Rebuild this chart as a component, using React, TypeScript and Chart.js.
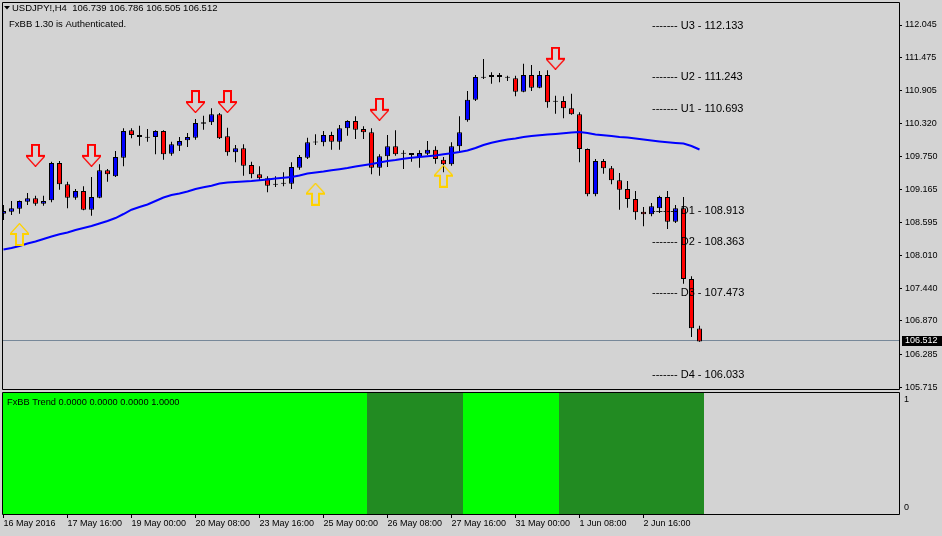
import React, { useEffect, useRef } from 'react';
import { Chart, registerables } from 'chart.js';

Chart.register(...registerables);

// ---------------- data ----------------
const symbolHeader = 'USDJPY!,H4  106.739 106.786 106.505 106.512';
const authText = 'FxBB 1.30 is Authenticated.';
const trendLabel = 'FxBB Trend 0.0000 0.0000 0.0000 1.0000';

const opens = [
  108.745, 108.780, 108.833, 108.955, 109.015, 108.920, 108.980, 109.632, 109.259, 109.025,
  109.142, 108.815, 109.025, 109.504, 109.399, 109.724, 110.204, 110.121, 110.078, 110.086,
  110.191, 109.794, 109.934, 110.029, 110.074, 110.319, 110.344, 110.483, 110.099, 109.819,
  109.889, 109.597, 109.434, 109.364, 109.255, 109.272, 109.270, 109.550, 109.724, 109.992,
  109.994, 110.121, 110.004, 110.239, 110.366, 110.226, 110.169, 109.550, 109.749, 109.924,
  109.792, 109.807, 109.737, 109.794, 109.864, 109.690, 109.609, 109.924, 110.378, 110.739,
  111.121, 111.136, 111.171, 111.125, 111.113, 110.879, 111.171, 110.948, 111.171, 110.702,
  110.716, 110.588, 110.483, 109.877, 109.085, 109.667, 109.539, 109.329, 109.177, 109.002,
  108.780, 108.735, 108.840, 109.037, 108.605, 108.840, 107.603, 106.739,
];
const highs = [
  108.897, 108.967, 108.975, 109.107, 109.060, 109.060, 109.655, 109.667, 109.305, 109.177,
  109.224, 109.387, 109.609, 109.527, 109.842, 110.239, 110.239, 110.284, 110.226, 110.204,
  110.204, 110.004, 110.086, 110.156, 110.401, 110.459, 110.588, 110.506, 110.249, 109.947,
  109.959, 109.655, 109.574, 109.399, 109.399, 109.469, 109.644, 109.772, 110.074, 110.134,
  110.191, 110.179, 110.296, 110.378, 110.448, 110.274, 110.239, 109.784, 110.121, 110.204,
  109.854, 109.807, 109.854, 110.017, 109.924, 109.737, 109.994, 110.448, 110.891, 111.171,
  111.450, 111.218, 111.206, 111.158, 111.158, 111.368, 111.345, 111.240, 111.253, 110.809,
  110.798, 110.844, 110.518, 109.885, 109.702, 109.702, 109.579, 109.457, 109.317, 109.142,
  108.862, 108.932, 109.060, 109.142, 108.897, 109.037, 107.651, 106.786,
];
const lows = [
  108.635, 108.723, 108.745, 108.897, 108.885, 108.885, 108.945, 109.165, 108.840, 108.990,
  108.805, 108.710, 109.015, 109.305, 109.387, 109.574, 110.064, 109.934, 110.004, 109.784,
  109.690, 109.759, 109.842, 109.912, 110.039, 110.214, 110.296, 110.051, 109.759, 109.644,
  109.410, 109.364, 109.317, 109.119, 109.212, 109.224, 109.177, 109.515, 109.702, 109.947,
  109.924, 109.864, 109.864, 110.109, 110.051, 110.051, 109.434, 109.410, 109.562, 109.759,
  109.527, 109.655, 109.550, 109.772, 109.620, 109.469, 109.585, 109.829, 110.354, 110.716,
  111.101, 111.018, 111.043, 111.066, 110.798, 110.870, 110.891, 110.940, 110.599, 110.494,
  110.413, 110.475, 109.644, 109.050, 109.050, 109.445, 109.259, 108.815, 108.850, 108.640,
  108.525, 108.700, 108.757, 108.478, 108.583, 107.521, 106.589, 106.505,
];
const closes = [
  108.793, 108.840, 108.967, 109.015, 108.920, 108.967, 109.632, 109.259, 109.025, 109.142,
  108.815, 109.037, 109.504, 109.434, 109.737, 110.191, 110.121, 110.086, 110.072, 110.191,
  109.784, 109.959, 110.017, 110.086, 110.331, 110.344, 110.483, 110.064, 109.819, 109.889,
  109.585, 109.434, 109.364, 109.235, 109.250, 109.268, 109.562, 109.737, 109.994, 109.996,
  110.121, 110.004, 110.239, 110.366, 110.214, 110.169, 109.550, 109.749, 109.924, 109.784,
  109.796, 109.772, 109.807, 109.864, 109.702, 109.609, 109.924, 110.169, 110.739, 111.136,
  111.125, 111.171, 111.136, 111.121, 110.879, 111.171, 110.948, 111.171, 110.693, 110.706,
  110.588, 110.483, 109.877, 109.085, 109.667, 109.539, 109.329, 109.165, 109.002, 108.770,
  108.735, 108.875, 109.037, 108.605, 108.840, 107.603, 106.741, 106.512,
];
const maValues = [
  108.119, 108.146, 108.180, 108.224, 108.259, 108.303, 108.347, 108.385, 108.417, 108.460,
  108.495, 108.530, 108.574, 108.618, 108.670, 108.740, 108.815, 108.862, 108.906, 108.967,
  109.029, 109.072, 109.098, 109.133, 109.177, 109.207, 109.235, 109.273, 109.291, 109.300,
  109.308, 109.317, 109.331, 109.343, 109.361, 109.375, 109.387, 109.413, 109.448, 109.466,
  109.483, 109.504, 109.523, 109.544, 109.571, 109.592, 109.614, 109.641, 109.667, 109.684,
  109.707, 109.723, 109.737, 109.749, 109.763, 109.784, 109.803, 109.824, 109.850, 109.894,
  109.947, 109.987, 110.017, 110.043, 110.060, 110.086, 110.104, 110.116, 110.130, 110.139,
  110.151, 110.165, 110.174, 110.156, 110.130, 110.116, 110.104, 110.086, 110.078, 110.060,
  110.043, 110.025, 110.008, 109.994, 109.982, 109.973, 109.929, 109.868,
];
// FxBB Trend histogram: value per bar and state (1 = bright, 2 = dark)
const trendValues = [
  1, 1, 1, 1, 1, 1, 1, 1, 1, 1, 1, 1, 1, 1, 1, 1, 1, 1, 1, 1, 1, 1,
  1, 1, 1, 1, 1, 1, 1, 1, 1, 1, 1, 1, 1, 1, 1, 1, 1, 1, 1, 1, 1, 1,
  1, 1, 1, 1, 1, 1, 1, 1, 1, 1, 1, 1, 1, 1, 1, 1, 1, 1, 1, 1, 1, 1,
  1, 1, 1, 1, 1, 1, 1, 1, 1, 1, 1, 1, 1, 1, 1, 1, 1, 1, 1, 1, 1, 1,
];
const trendStates = [
  1, 1, 1, 1, 1, 1, 1, 1, 1, 1, 1, 1, 1, 1, 1, 1, 1, 1, 1, 1, 1, 1,
  1, 1, 1, 1, 1, 1, 1, 1, 1, 1, 1, 1, 1, 1, 1, 1, 1, 1, 1, 1, 1, 1,
  1, 1, 2, 2, 2, 2, 2, 2, 2, 2, 2, 2, 2, 2, 1, 1, 1, 1, 1, 1, 1, 1,
  1, 1, 1, 1, 2, 2, 2, 2, 2, 2, 2, 2, 2, 2, 2, 2, 2, 2, 2, 2, 2, 2,
];

const priceTicks = [112.045, 111.475, 110.905, 110.32, 109.75, 109.165, 108.595, 108.01, 107.44, 106.87, 106.285, 105.715];
const lastPrice = 106.512;
const timeTickBars = [0, 8, 16, 24, 32, 40, 48, 56, 64, 72, 80];
const timeTickLabels = [
  '16 May 2016', '17 May 16:00', '19 May 00:00', '20 May 08:00', '23 May 16:00', '25 May 00:00',
  '26 May 08:00', '27 May 16:00', '31 May 00:00', '1 Jun 08:00', '2 Jun 16:00',
];

const levelNames = ['U3', 'U2', 'U1', 'D1', 'D2', 'D3', 'D4'];
const levelPrices = [112.133, 111.243, 110.693, 108.913, 108.363, 107.473, 106.033];
const levelBar = 81;

const sellArrowBars = [4, 11, 24, 28, 47, 69];
const sellArrowPrices = [109.766, 109.766, 110.707, 110.707, 110.571, 111.463];
const buyArrowBars = [2, 39, 55];
const buyArrowPrices = [108.382, 109.086, 109.401];

// ---------------- styles ----------------
const BG = '#D3D3D3';
const BULL = '#0000FF';
const BEAR = '#FF0000';
const MA_COLOR = '#0000FF';
const TREND_BRIGHT = '#00FF00';
const TREND_DARK = '#228B22';
const SELL_COLOR = '#FF0000';
const BUY_COLOR = '#FFD200';
const SANS = "'Liberation Sans', Arial, sans-serif";

function makeArrow(color: string, down: boolean): HTMLCanvasElement {
  const c = document.createElement('canvas');
  c.width = 19;
  c.height = 23;
  const g = c.getContext('2d')!;
  if (!down) {
    g.translate(0, 23);
    g.scale(1, -1);
  }
  g.fillStyle = color;
  g.strokeStyle = color;
  g.fillRect(5, 0, 9, 2);
  g.fillRect(5, 0, 2, 13);
  g.fillRect(12, 0, 2, 13);
  g.fillRect(0, 11, 7, 2);
  g.fillRect(12, 11, 7, 2);
  g.lineWidth = 1.2;
  g.beginPath();
  g.moveTo(0.5, 12.5);
  g.lineTo(9.5, 22.5);
  g.lineTo(18.5, 12.5);
  g.stroke();
  return c;
}

const decorPlugin = {
  id: 'decor',
  beforeDraw(chart: any) {
    const { ctx } = chart;
    ctx.save();
    ctx.fillStyle = BG;
    ctx.fillRect(0, 0, chart.width, chart.height);
    ctx.restore();
  },
  beforeDatasetsDraw(chart: any) {
    const { ctx, chartArea } = chart;
    const y = Math.round(chart.scales.y.getPixelForValue(lastPrice)) - 0.5;
    ctx.save();
    ctx.strokeStyle = '#778899';
    ctx.lineWidth = 1;
    ctx.beginPath();
    ctx.moveTo(chartArea.left, y);
    ctx.lineTo(chartArea.right, y);
    ctx.stroke();
    ctx.restore();
  },
  afterDatasetsDraw(chart: any) {
    const { ctx } = chart;
    const xs = chart.scales.x;
    const ys = chart.scales.y;
    ctx.save();
    ctx.fillStyle = '#000';
    ctx.font = `11px ${SANS}`;
    ctx.textBaseline = 'top';
    ctx.textAlign = 'left';
    const x = Math.round(xs.getPixelForValue(levelBar));
    levelNames.forEach((n, i) => {
      const y = ys.getPixelForValue(levelPrices[i]) + 1;
      ctx.fillText(`------- ${n} - ${levelPrices[i].toFixed(3)}`, x, y);
    });
    ctx.restore();
  },
  afterDraw(chart: any) {
    const { ctx, chartArea } = chart;
    const ys = chart.scales.y;
    const ys2 = chart.scales.y2;
    ctx.save();
    // panel borders
    ctx.strokeStyle = '#000';
    ctx.lineWidth = 1;
    const L = chartArea.left - 0.5;
    const R = chartArea.right + 0.5;
    const mainBottom = 389.5;
    const subTop = Math.round(ys2.getPixelForValue(1)) - 0.5;
    ctx.beginPath();
    ctx.rect(L, chartArea.top - 0.5, R - L, mainBottom - (chartArea.top - 0.5));
    ctx.stroke();
    ctx.beginPath();
    ctx.rect(L, subTop, R - L, chartArea.bottom + 0.5 - subTop);
    ctx.stroke();

    // header
    ctx.fillStyle = '#000';
    ctx.beginPath();
    ctx.moveTo(4, 6);
    ctx.lineTo(10, 6);
    ctx.lineTo(7, 9.5);
    ctx.closePath();
    ctx.fill();
    ctx.textAlign = 'left';
    ctx.textBaseline = 'alphabetic';
    ctx.font = `9.5px ${SANS}`;
    ctx.fillText(symbolHeader, 12, 11);
    ctx.fillText(authText, 9, 27);
    ctx.font = `9.25px ${SANS}`;
    ctx.fillText(trendLabel, 7, 405);

    // sub axis labels
    ctx.font = `9px ${SANS}`;
    ctx.textBaseline = 'middle';
    ctx.fillText('1', chartArea.right + 5, ys2.getPixelForValue(1) + 7);
    ctx.fillText('0', chartArea.right + 5, ys2.getPixelForValue(0) - 6);

    // last price box
    const py = Math.round(ys.getPixelForValue(lastPrice));
    ctx.fillStyle = '#000';
    ctx.fillRect(chartArea.right + 3, py - 5, 40, 10);
    ctx.fillStyle = '#FFF';
    ctx.fillText(lastPrice.toFixed(3), chartArea.right + 6, py);
    ctx.restore();
  },
};

export default function App() {
  const ref = useRef<HTMLCanvasElement | null>(null);

  useEffect(() => {
    if (!ref.current) return;
    const n = opens.length;
    const idx = Array.from({ length: n }, (_, i) => i);
    const bodyData = idx.map((i) => ({ x: i, y: [opens[i], closes[i]] }));
    const bodyColors = idx.map((i) => (closes[i] > opens[i] ? BULL : closes[i] < opens[i] ? BEAR : '#000'));
    const wickData = idx.map((i) => ({ x: i, y: [lows[i], highs[i]] }));
    const maData = idx.map((i) => ({ x: i, y: maValues[i] }));
    const trendData = idx.map((i) => ({ x: i, y: trendValues[i] }));
    const trendColors = idx.map((i) => (trendStates[i] === 1 ? TREND_BRIGHT : TREND_DARK));
    const sellData = sellArrowBars.map((b, i) => ({ x: b, y: sellArrowPrices[i] }));
    const buyData = buyArrowBars.map((b, i) => ({ x: b, y: buyArrowPrices[i] }));

    const chart = new Chart(ref.current, {
      type: 'bar',
      data: {
        datasets: [
          {
            type: 'scatter',
            data: sellData,
            pointStyle: makeArrow(SELL_COLOR, true),
            pointRadius: 5,
            xAxisID: 'x',
            yAxisID: 'y',
            order: 0,
          } as any,
          {
            type: 'scatter',
            data: buyData,
            pointStyle: makeArrow(BUY_COLOR, false),
            pointRadius: 5,
            xAxisID: 'x',
            yAxisID: 'y',
            order: 0,
          } as any,
          {
            type: 'line',
            data: maData,
            borderColor: MA_COLOR,
            borderWidth: 2,
            pointRadius: 0,
            tension: 0,
            fill: false,
            xAxisID: 'x',
            yAxisID: 'y',
            order: 1,
          } as any,
          {
            type: 'bar',
            data: bodyData,
            backgroundColor: bodyColors,
            borderColor: '#000',
            borderWidth: 1,
            borderSkipped: false,
            barThickness: 5,
            minBarLength: 1,
            inflateAmount: 0,
            grouped: false,
            xAxisID: 'x',
            yAxisID: 'y',
            order: 2,
          } as any,
          {
            type: 'bar',
            data: wickData,
            backgroundColor: '#000',
            borderWidth: 0,
            barThickness: 1,
            inflateAmount: 0,
            grouped: false,
            xAxisID: 'x',
            yAxisID: 'y',
            order: 3,
          } as any,
          {
            type: 'bar',
            data: trendData,
            backgroundColor: trendColors,
            borderWidth: 0,
            barThickness: 9,
            inflateAmount: 0,
            grouped: false,
            xAxisID: 'x',
            yAxisID: 'y2',
            order: 4,
          } as any,
        ],
      },
      options: {
        responsive: false,
        maintainAspectRatio: false,
        devicePixelRatio: 1,
        animation: false,
        events: [],
        layout: { autoPadding: false, padding: { left: 3, top: 3, right: 0, bottom: 0 } },
        plugins: { legend: { display: false }, tooltip: { enabled: false } },
        scales: {
          x: {
            type: 'linear',
            position: 'bottom',
            min: -0.0625,
            max: 111.9375,
            offset: false,
            bounds: 'data',
            grid: { offset: false, drawOnChartArea: false, drawTicks: true, tickLength: 4, color: '#000' },
            border: { display: false },
            ticks: {
              autoSkip: false,
              maxRotation: 0,
              minRotation: 0,
              align: 'start',
              padding: 0,
              color: '#000',
              font: { family: SANS, size: 9 },
              callback: (v: any) => {
                const i = timeTickBars.indexOf(Number(v));
                return i >= 0 ? timeTickLabels[i] : '';
              },
            },
            afterBuildTicks: (axis: any) => {
              axis.ticks = timeTickBars.map((v) => ({ value: v }));
            },
            afterFit: (axis: any) => {
              axis.height = 22;
              axis.paddingLeft = 0;
              axis.paddingRight = 0;
            },
          },
          y: {
            type: 'linear',
            position: 'right',
            min: 103.4947,
            max: 112.4297,
            bounds: 'data',
            beginAtZero: false,
            grid: { drawOnChartArea: false, drawTicks: true, tickLength: 3, color: '#000' },
            border: { display: false },
            ticks: {
              autoSkip: false,
              padding: 3,
              color: '#000',
              font: { family: SANS, size: 9 },
              callback: (v: any) => Number(v).toFixed(3),
            },
            afterBuildTicks: (axis: any) => {
              axis.ticks = priceTicks.map((v) => ({ value: v }));
            },
            afterFit: (axis: any) => {
              axis.width = 43;
              axis.paddingTop = 0;
              axis.paddingBottom = 0;
            },
          },
          y2: {
            type: 'linear',
            display: false,
            min: 0,
            max: 4.2231,
            bounds: 'data',
            beginAtZero: false,
          },
        },
      } as any,
      plugins: [decorPlugin],
    });

    return () => chart.destroy();
  }, []);

  return (
    <div style={{ position: 'absolute', left: 0, top: 0, width: 942, height: 536, background: BG }}>
      <canvas ref={ref} width={942} height={536} style={{ display: 'block', width: 942, height: 536 }} />
    </div>
  );
}
